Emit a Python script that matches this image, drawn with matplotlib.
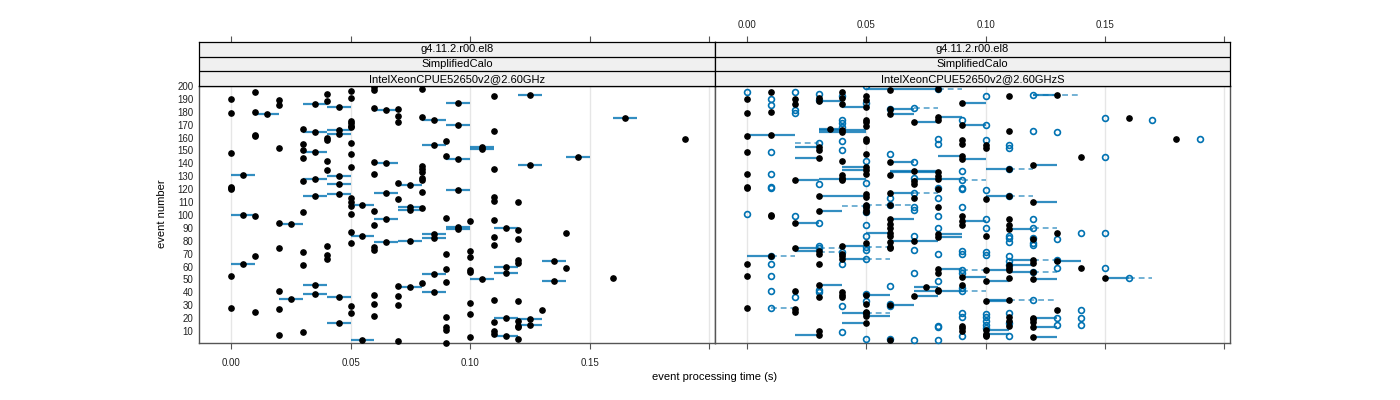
import matplotlib
matplotlib.use("Agg")
import matplotlib.pyplot as plt

plt.rcParams["font.family"] = ["Liberation Sans", "DejaVu Sans"]

# ---- left panel: IntelXeonCPUE52650v2@2.60GHz ----
# single measurements (event, time)
left_pt_ev = [190, 179, 148, 122, 121, 120, 53, 28,
              195, 180, 162, 161, 99, 68, 25,
              189, 185, 152, 94, 74, 41, 27, 7,
              167, 155, 150, 144, 126, 102, 71, 61, 9,
              194, 188, 160, 158, 142, 135, 76, 69, 66,
              196, 191, 173, 171, 169, 168, 156, 147, 137, 113, 110, 107, 101, 87, 78, 29, 24,
              199, 197, 183, 141, 132, 103, 92, 75, 73, 38, 31, 22,
              182, 177, 172, 125, 112, 45, 37, 30, 2,
              198, 176, 138, 136, 133, 129, 127, 118, 105, 47,
              157, 146, 98, 70, 58, 48, 21, 13, 11, 1,
              95, 72, 67, 57, 56, 32, 23, 5,
              192, 165, 136, 114, 111, 96, 83, 77, 34, 17, 10, 8,
              110, 88, 81, 65, 63, 33, 18, 14, 13, 4,
              26, 86, 59, 51, 159]
left_pt_t = [0.00, 0.00, 0.00, 0.00, 0.00, 0.00, 0.00, 0.00,
             0.01, 0.01, 0.01, 0.01, 0.01, 0.01, 0.01,
             0.02, 0.02, 0.02, 0.02, 0.02, 0.02, 0.02, 0.02,
             0.03, 0.03, 0.03, 0.03, 0.03, 0.03, 0.03, 0.03, 0.03,
             0.04, 0.04, 0.04, 0.04, 0.04, 0.04, 0.04, 0.04, 0.04,
             0.05, 0.05, 0.05, 0.05, 0.05, 0.05, 0.05, 0.05, 0.05, 0.05, 0.05, 0.05, 0.05, 0.05, 0.05, 0.05, 0.05,
             0.06, 0.06, 0.06, 0.06, 0.06, 0.06, 0.06, 0.06, 0.06, 0.06, 0.06, 0.06,
             0.07, 0.07, 0.07, 0.07, 0.07, 0.07, 0.07, 0.07, 0.07,
             0.08, 0.08, 0.08, 0.08, 0.08, 0.08, 0.08, 0.08, 0.08, 0.08,
             0.09, 0.09, 0.09, 0.09, 0.09, 0.09, 0.09, 0.09, 0.09, 0.09,
             0.10, 0.10, 0.10, 0.10, 0.10, 0.10, 0.10, 0.10,
             0.11, 0.11, 0.11, 0.11, 0.11, 0.11, 0.11, 0.11, 0.11, 0.11, 0.11, 0.11,
             0.12, 0.12, 0.12, 0.12, 0.12, 0.12, 0.12, 0.12, 0.12, 0.12,
             0.13, 0.14, 0.14, 0.16, 0.19]

# events with a spread of times (min / max), dot at the median
left_bar_ev = [186, 184, 178, 181, 174, 187, 170, 164, 166, 163,
               149, 154, 143, 140, 131, 128, 130, 124, 115, 116,
               123, 117, 108, 106, 119, 193, 153, 151, 139, 145,
               175, 100, 93, 84, 97, 104, 91, 89, 79, 80,
               85, 82, 62, 54, 40, 46, 39, 35, 36, 44,
               16, 3, 90, 64, 60, 55, 50, 49, 20, 19,
               15, 6]
left_bar_lo = [0.03, 0.04, 0.01, 0.06, 0.08, 0.09, 0.09, 0.03, 0.04, 0.04,
               0.03, 0.08, 0.09, 0.06, 0.00, 0.03, 0.04, 0.04, 0.03, 0.04,
               0.07, 0.06, 0.05, 0.07, 0.09, 0.12, 0.10, 0.10, 0.12, 0.14,
               0.16, 0.00, 0.02, 0.05, 0.06, 0.07, 0.09, 0.09, 0.06, 0.07,
               0.08, 0.08, 0.00, 0.08, 0.08, 0.03, 0.03, 0.02, 0.04, 0.07,
               0.04, 0.05, 0.11, 0.13, 0.11, 0.11, 0.10, 0.13, 0.11, 0.12,
               0.12, 0.11]
left_bar_hi = [0.04, 0.05, 0.02, 0.07, 0.09, 0.10, 0.10, 0.04, 0.05, 0.05,
               0.04, 0.09, 0.10, 0.07, 0.01, 0.04, 0.05, 0.05, 0.04, 0.05,
               0.08, 0.07, 0.06, 0.08, 0.10, 0.13, 0.11, 0.11, 0.13, 0.15,
               0.17, 0.01, 0.03, 0.06, 0.07, 0.08, 0.10, 0.10, 0.07, 0.08,
               0.09, 0.09, 0.01, 0.09, 0.09, 0.04, 0.04, 0.03, 0.05, 0.08,
               0.05, 0.06, 0.12, 0.14, 0.12, 0.12, 0.11, 0.14, 0.12, 0.13,
               0.13, 0.12]

# ---- right panel: IntelXeonCPUE52650v2@2.60GHzS, two result sets ----
# filled points (solid range lines)
rb_pt_ev = [190, 179, 161, 149, 132, 122, 121, 62, 53, 28,
            195, 180, 100, 99,
            190, 186, 41, 27, 25,
            191, 150, 70, 62, 36, 10,
            195, 191, 186, 142, 131, 129, 127, 70, 68, 40, 38, 36,
            192, 189, 174, 172, 169, 159, 157, 147, 132, 116, 114, 108, 106, 104, 102, 78, 31, 25,
            197, 131, 108, 93, 90, 84, 79, 75, 74, 3,
            126, 124, 113,
            174, 130, 120, 106, 55, 42,
            158, 155, 99, 92, 46, 14, 12, 10,
            154, 152, 112, 84, 7, 6,
            192, 165, 97, 92, 59, 57, 51, 21, 18, 14,
            81, 63, 19, 17,
            86, 26, 145, 59, 175, 159]
rb_pt_t = [0.00, 0.00, 0.00, 0.00, 0.00, 0.00, 0.00, 0.00, 0.00, 0.00,
           0.01, 0.01, 0.01, 0.01,
           0.02, 0.02, 0.02, 0.02, 0.02,
           0.03, 0.03, 0.03, 0.03, 0.03, 0.03,
           0.04, 0.04, 0.04, 0.04, 0.04, 0.04, 0.04, 0.04, 0.04, 0.04, 0.04, 0.04,
           0.05, 0.05, 0.05, 0.05, 0.05, 0.05, 0.05, 0.05, 0.05, 0.05, 0.05, 0.05, 0.05, 0.05, 0.05, 0.05, 0.05, 0.05,
           0.06, 0.06, 0.06, 0.06, 0.06, 0.06, 0.06, 0.06, 0.06, 0.06,
           0.07, 0.07, 0.07,
           0.08, 0.08, 0.08, 0.08, 0.08, 0.08,
           0.09, 0.09, 0.09, 0.09, 0.09, 0.09, 0.09, 0.09,
           0.10, 0.10, 0.10, 0.10, 0.10, 0.10,
           0.11, 0.11, 0.11, 0.11, 0.11, 0.11, 0.11, 0.11, 0.11, 0.11,
           0.12, 0.12, 0.12, 0.12,
           0.13, 0.13, 0.14, 0.14, 0.16, 0.18]

rb_ev = [162, 153, 144, 127, 188, 115, 103, 167, 166, 164,
         128, 137, 135, 184, 198, 182, 178, 172, 176, 170,
         187, 141, 146, 143, 134, 133, 128, 136, 139, 117,
         115, 110, 193, 94, 86, 76, 74, 72, 68, 66,
         46, 38, 22, 24, 16, 7, 97, 80, 85, 83,
         95, 89, 44, 58, 52, 41, 37, 57, 49, 65,
         61, 56, 64, 50, 51, 34, 33, 30, 11, 8,
         20, 13, 5]
rb_med = [0.01, 0.03, 0.03, 0.02, 0.03, 0.03, 0.03, 0.035, 0.04, 0.04,
          0.04, 0.05, 0.05, 0.05, 0.08, 0.06, 0.06, 0.07, 0.08, 0.09,
          0.09, 0.06, 0.09, 0.09, 0.07, 0.08, 0.08, 0.11, 0.12, 0.06,
          0.11, 0.12, 0.13, 0.02, 0.06, 0.04, 0.02, 0.03, 0.01, 0.04,
          0.03, 0.05, 0.05, 0.05, 0.05, 0.03, 0.06, 0.07, 0.08, 0.08,
          0.09, 0.11, 0.075, 0.08, 0.09, 0.08, 0.07, 0.10, 0.10, 0.12,
          0.11, 0.12, 0.13, 0.12, 0.15, 0.11, 0.10, 0.06, 0.10, 0.10,
          0.12, 0.12, 0.12]
rb_lo = [0.00, 0.02, 0.02, 0.02, 0.03, 0.03, 0.03, 0.03, 0.03, 0.03,
         0.03, 0.04, 0.04, 0.04, 0.05, 0.06, 0.06, 0.07, 0.08, 0.09,
         0.09, 0.06, 0.08, 0.09, 0.06, 0.06, 0.07, 0.10, 0.12, 0.06,
         0.10, 0.12, 0.12, 0.02, 0.05, 0.04, 0.02, 0.02, 0.00, 0.04,
         0.03, 0.05, 0.05, 0.04, 0.04, 0.02, 0.06, 0.06, 0.08, 0.08,
         0.09, 0.11, 0.07, 0.08, 0.09, 0.07, 0.07, 0.10, 0.10, 0.11,
         0.11, 0.11, 0.13, 0.12, 0.15, 0.10, 0.10, 0.06, 0.10, 0.10,
         0.12, 0.12, 0.12]
rb_hi = [0.02, 0.03, 0.03, 0.03, 0.04, 0.05, 0.04, 0.04, 0.05, 0.05,
         0.05, 0.05, 0.05, 0.05, 0.08, 0.07, 0.07, 0.08, 0.09, 0.10,
         0.10, 0.07, 0.09, 0.10, 0.08, 0.08, 0.09, 0.11, 0.13, 0.07,
         0.11, 0.13, 0.13, 0.03, 0.06, 0.05, 0.03, 0.03, 0.01, 0.05,
         0.04, 0.06, 0.06, 0.05, 0.05, 0.03, 0.07, 0.08, 0.09, 0.09,
         0.10, 0.12, 0.08, 0.09, 0.10, 0.09, 0.08, 0.11, 0.11, 0.12,
         0.12, 0.12, 0.14, 0.13, 0.16, 0.11, 0.11, 0.07, 0.11, 0.11,
         0.13, 0.13, 0.13]

# open points (dashed range lines)
ro_pt_ev = [195, 101,
            190, 185, 149, 132, 122, 121, 62, 53, 41,
            195, 181, 179, 99, 36,
            194, 189, 124, 94, 76, 42, 40,
            192, 174, 171, 168, 157, 150, 62, 29, 9,
            200, 187, 142, 125, 102, 92, 84, 73, 39, 33, 4,
            182, 147, 113, 45, 31, 29, 4,
            141, 129, 106, 104, 84, 73, 55, 3,
            159, 155, 121, 113, 99, 90, 70, 49, 14, 13, 3,
            174, 134, 121, 120, 106, 72, 70, 55, 43, 24, 21, 6,
            192, 170, 158, 119, 97, 90, 71, 69, 23, 21, 18, 15, 12,
            154, 152, 84, 82, 79, 68, 64, 61, 24, 16, 6,
            165, 97, 82, 78, 77,
            164, 81, 59, 20, 15,
            86, 26, 20, 15,
            175, 145, 86, 59,
            174, 159]
ro_pt_t = [0.00, 0.00,
           0.01, 0.01, 0.01, 0.01, 0.01, 0.01, 0.01, 0.01, 0.01,
           0.02, 0.02, 0.02, 0.02, 0.02,
           0.03, 0.03, 0.03, 0.03, 0.03, 0.03, 0.03,
           0.04, 0.04, 0.04, 0.04, 0.04, 0.04, 0.04, 0.04, 0.04,
           0.05, 0.05, 0.05, 0.05, 0.05, 0.05, 0.05, 0.05, 0.05, 0.05, 0.05,
           0.06, 0.06, 0.06, 0.06, 0.06, 0.06, 0.06,
           0.07, 0.07, 0.07, 0.07, 0.07, 0.07, 0.07, 0.07,
           0.08, 0.08, 0.08, 0.08, 0.08, 0.08, 0.08, 0.08, 0.08, 0.08, 0.08,
           0.09, 0.09, 0.09, 0.09, 0.09, 0.09, 0.09, 0.09, 0.09, 0.09, 0.09, 0.09,
           0.10, 0.10, 0.10, 0.10, 0.10, 0.10, 0.10, 0.10, 0.10, 0.10, 0.10, 0.10, 0.10,
           0.11, 0.11, 0.11, 0.11, 0.11, 0.11, 0.11, 0.11, 0.11, 0.11, 0.11,
           0.12, 0.12, 0.12, 0.12, 0.12,
           0.13, 0.13, 0.13, 0.13, 0.13,
           0.14, 0.14, 0.14, 0.14,
           0.15, 0.15, 0.15, 0.15,
           0.17, 0.19]

ro_ev = [156, 107, 183, 127, 136, 117, 108, 198, 115, 193,
         75, 74, 71, 68, 66, 28, 24, 57, 41, 65,
         90, 56, 51, 34]
ro_med = [0.03, 0.05, 0.07, 0.09, 0.11, 0.07, 0.06, 0.08, 0.11, 0.12,
          0.05, 0.03, 0.04, 0.01, 0.05, 0.01, 0.05, 0.09, 0.09, 0.13,
          0.12, 0.12, 0.16, 0.12]
ro_lo = [0.02, 0.04, 0.07, 0.09, 0.11, 0.07, 0.05, 0.08, 0.11, 0.12,
         0.05, 0.03, 0.03, 0.01, 0.05, 0.01, 0.05, 0.09, 0.09, 0.12,
         0.12, 0.12, 0.16, 0.11]
ro_hi = [0.03, 0.05, 0.08, 0.10, 0.12, 0.08, 0.07, 0.09, 0.12, 0.14,
         0.06, 0.04, 0.04, 0.02, 0.06, 0.02, 0.06, 0.10, 0.10, 0.13,
         0.13, 0.13, 0.17, 0.13]

strip_labels = ["g4.11.2.r00.el8", "SimplifiedCalo"]
panel_names = ["IntelXeonCPUE52650v2@2.60GHz", "IntelXeonCPUE52650v2@2.60GHzS"]

assert len(left_pt_ev) == len(left_pt_t)
assert len(rb_pt_ev) == len(rb_pt_t)
assert len(ro_pt_ev) == len(ro_pt_t)

BLUE = "#0072b2"
XLIM = (-0.0134, 0.2025)
xticks = [0.0, 0.05, 0.10, 0.15, 0.20]
xticklabels = ["0.00", "0.05", "0.10", "0.15", ""]

fig = plt.figure(figsize=(14, 4), dpi=100)
W, H = 1400.0, 400.0
ax_l = fig.add_axes([199 / W, 1 - 342.6 / H, 516 / W, 256.6 / H])
ax_r = fig.add_axes([715 / W, 1 - 342.6 / H, 515 / W, 256.6 / H])
st_l = fig.add_axes([199 / W, 1 - 86 / H, 516 / W, 44 / H])
st_r = fig.add_axes([715 / W, 1 - 86 / H, 515 / W, 44 / H])

for ax in (ax_l, ax_r):
    ax.set_xlim(*XLIM)
    ax.set_ylim(1, 200)
    for xv in xticks:
        ax.axvline(xv, color="#e6e6e6", lw=1, zorder=0)
    ax.set_xticks(xticks)
    ax.set_yticks(range(10, 201, 10))
    ax.tick_params(axis="x", direction="out", length=4, width=0.8,
                   color="#555555", labelsize=7, labelcolor="#222222", pad=7)
    ax.tick_params(axis="y", length=0, labelsize=7, labelcolor="#222222", pad=4)
    for sp in ax.spines.values():
        sp.set_color("#555555")
        sp.set_linewidth(1.0)

ax_l.set_xticklabels(xticklabels)
ax_r.set_xticklabels([])
ax_r.set_yticklabels([])

# left panel
ax_l.hlines(left_bar_ev, left_bar_lo, left_bar_hi, color=BLUE, lw=1.6, alpha=0.8, zorder=2)
left_bar_med = [(a + b) / 2 for a, b in zip(left_bar_lo, left_bar_hi)]
ax_l.plot(left_bar_med, left_bar_ev, "o", color="black", ms=3.8, zorder=4, clip_on=False)
ax_l.plot(left_pt_t, left_pt_ev, "o", color="black", ms=3.8, zorder=4, clip_on=False)

# right panel
ax_r.hlines(ro_ev, ro_lo, ro_hi, color=BLUE, lw=1.4, alpha=0.55,
            linestyles=(0, (3, 2)), zorder=2)
ax_r.hlines(rb_ev, rb_lo, rb_hi, color=BLUE, lw=1.6, alpha=0.8, zorder=2)
ax_r.plot(ro_pt_t, ro_pt_ev, "o", mfc="none", mec=BLUE, mew=1.2, ms=4.2, zorder=3, clip_on=False)
ax_r.plot(ro_med, ro_ev, "o", mfc="none", mec=BLUE, mew=1.2, ms=4.2, zorder=3, clip_on=False)
ax_r.plot(rb_pt_t, rb_pt_ev, "o", color="black", ms=3.8, zorder=4, clip_on=False)
ax_r.plot(rb_med, rb_ev, "o", color="black", ms=3.8, zorder=4, clip_on=False)

# strips
for st, name, show in ((st_l, panel_names[0], False), (st_r, panel_names[1], True)):
    st.set_facecolor("#f0f0f0")
    st.set_xlim(*XLIM)
    st.set_ylim(0, 3)
    st.axhline(1, color="black", lw=0.9)
    st.axhline(2, color="black", lw=0.9)
    for sp in st.spines.values():
        sp.set_color("black")
        sp.set_linewidth(0.9)
    texts = [name, strip_labels[1], strip_labels[0]]
    for i, t in enumerate(texts):
        st.text(0.5, (i + 0.5) / 3, t, transform=st.transAxes, ha="center",
                va="center", fontsize=8, color="black")
    st.set_yticks([])
    st.set_xticks(xticks)
    st.xaxis.tick_top()
    st.tick_params(axis="x", direction="out", length=4, width=0.8,
                   color="#555555", labelsize=7, labelcolor="#222222", pad=5)
    if show:
        st.set_xticklabels(xticklabels)
    else:
        st.set_xticklabels([])

fig.text(715 / W, 1 - 377 / H, "event processing time (s)", ha="center",
         va="center", fontsize=8)
fig.text(162 / W, 1 - 214 / H, "event number", ha="center", va="center",
         rotation=90, fontsize=8)

fig.savefig("out.png", dpi=100)
